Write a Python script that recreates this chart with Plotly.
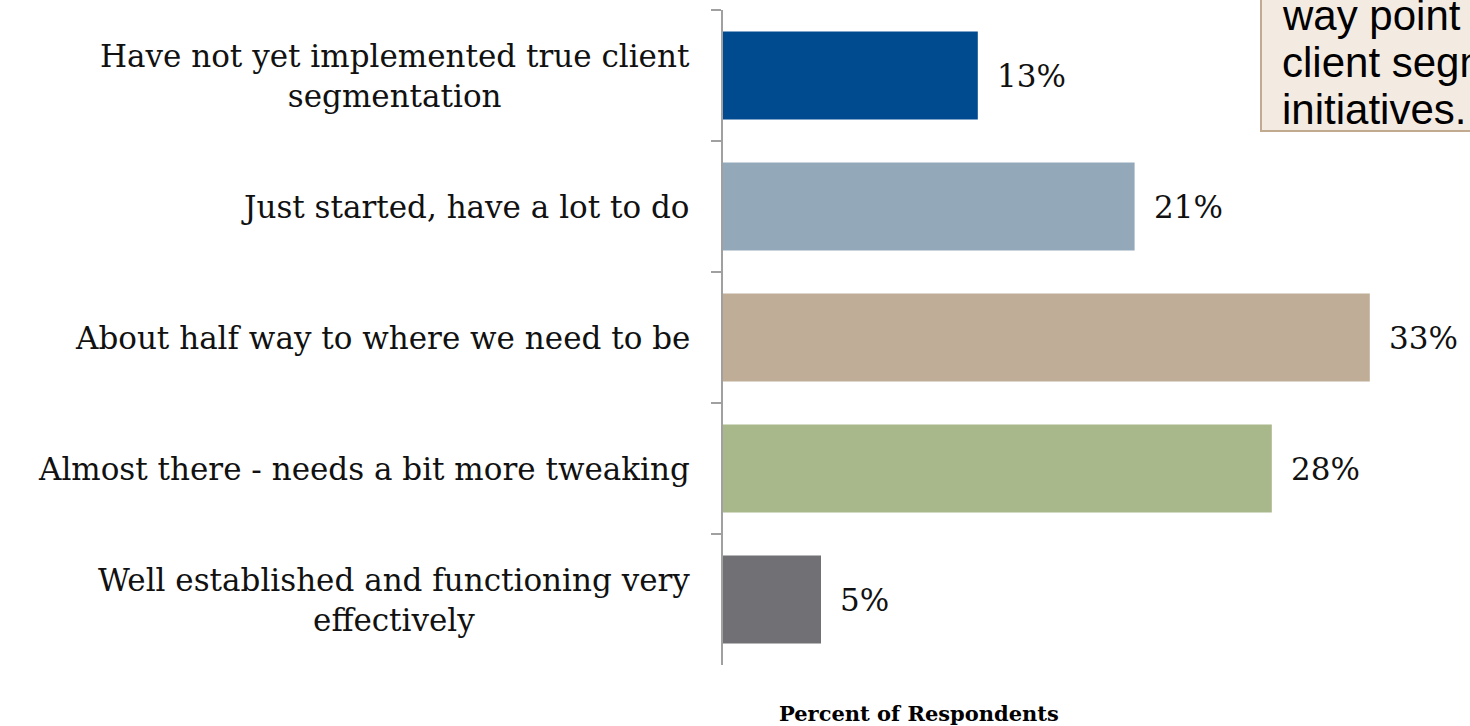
import plotly.graph_objects as go

categories = [
    "Have not yet implemented true client<br>segmentation",
    "Just started, have a lot to do",
    "About half way to where we need to be",
    "Almost there - needs a bit more tweaking",
    "Well established and functioning very<br>effectively",
]
values = [13, 21, 33, 28, 5]
value_labels = ["13%", "21%", "33%", "28%", "5%"]
colors = ["#004a8f", "#93a9b9", "#bfad97", "#a8b88a", "#717074"]
axis_title = "Percent of Respondents"
callout_lines = ["way point in their", "client segmentation", "initiatives."]
callout_baselines_px = [31, 78, 125]

W, H = 1470, 726
ML, MR, MT, MB = 723, 0, 10, 61
PW = W - ML - MR
PH = H - MT - MB

def px_x(px):
    return (px - ML) / PW

def px_y(py):
    return (H - MB - py) / PH

SERIF = "Georgia, 'DejaVu Serif', serif"
SANS = "Arial, 'Liberation Sans', sans-serif"

fig = go.Figure()
fig.add_trace(go.Bar(
    x=values, y=categories, orientation="h",
    marker=dict(color=colors, line=dict(width=0)),
    hoverinfo="skip", showlegend=False,
))

annotations = []
for cat, v, lab in zip(categories, values, value_labels):
    annotations.append(dict(
        x=v, y=cat, xref="x", yref="y", text=lab, showarrow=False,
        xanchor="left", yanchor="middle", xshift=17,
        font=dict(family=SERIF, size=31, color="#111111"),
    ))
    annotations.append(dict(
        x=0, y=cat, xref="paper", yref="y", text=cat, showarrow=False,
        xanchor="right", yanchor="middle", xshift=-31, align="center",
        font=dict(family=SERIF, size=31, color="#111111"),
    ))

annotations.append(dict(
    x=px_x(919), y=px_y(713), xref="paper", yref="paper", text="<b>" + axis_title + "</b>",
    showarrow=False, xanchor="center", yanchor="middle",
    font=dict(family=SERIF, size=21, color="#000000"),
))
CALLOUT_SIZE = 42
for line, base in zip(callout_lines, callout_baselines_px):
    annotations.append(dict(
        x=px_x(1280), y=px_y(base - 0.36 * CALLOUT_SIZE), xref="paper", yref="paper",
        text=line, showarrow=False, xanchor="left", yanchor="middle", align="left",
        font=dict(family=SANS, size=CALLOUT_SIZE, color="#000000"),
    ))

fig.update_layout(
    width=W, height=H,
    margin=dict(l=ML, r=MR, t=MT, b=MB, pad=0),
    plot_bgcolor="white", paper_bgcolor="white",
    bargap=0.33,
    xaxis=dict(range=[0, PW / 19.6], showgrid=False, zeroline=False,
               showticklabels=False, showline=False, ticks=""),
    yaxis=dict(autorange="reversed", showgrid=False, zeroline=False,
               showline=True, linecolor="#a0a0a0", linewidth=2,
               ticks="outside", ticklen=10, tickwidth=2, tickcolor="#a0a0a0",
               tickson="boundaries", showticklabels=False),
    annotations=annotations,
    shapes=[dict(
        type="rect", xref="paper", yref="paper",
        x0=px_x(1261), x1=px_x(1480), y0=px_y(131), y1=px_y(-5),
        fillcolor="#f3ebe2", line=dict(color="#c2aa90", width=2), layer="below",
    )],
)

fig.write_html("out.html")
